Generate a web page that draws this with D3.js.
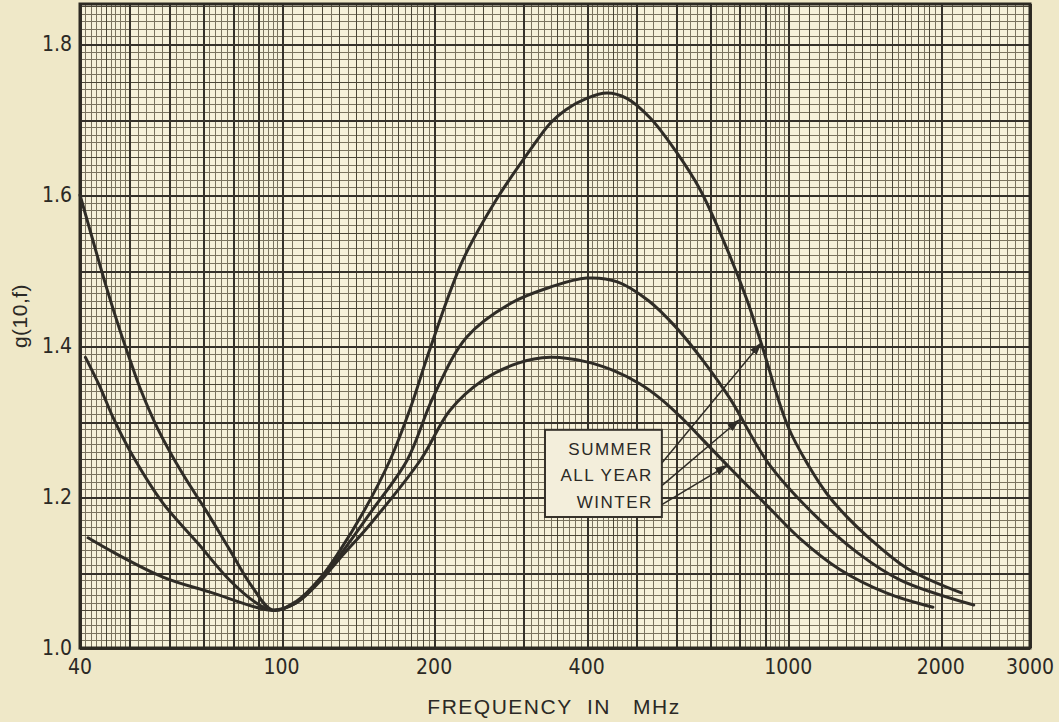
<!DOCTYPE html>
<meta charset="utf-8">
<style>
body { margin: 0; background: #efe8c8; }
svg { display: block; }
.tick-label { font-family: "Liberation Sans Narrow", "DejaVu Sans Condensed", sans-serif; font-size: 21px; fill: #2b2925; }
.axis-title { font-family: "Liberation Sans", Arial, sans-serif; font-size: 21px; fill: #2b2925; letter-spacing: 1.5px; }
.curve { fill: none; stroke: #2f2c26; stroke-width: 3; stroke-linejoin: round; stroke-linecap: round; }
.legend-text { font-family: "Liberation Sans", Arial, sans-serif; font-size: 17px; fill: #2b2925; letter-spacing: 1.5px; }
</style>
<body>
<script src="https://d3js.org/d3.v7.min.js"></script>
<script>
// values
var summerF = [40, 42, 45, 48, 50.3, 52.5, 56.9, 63.6, 71.4, 79, 87.5, 96, 107, 119, 130, 145, 163.7, 180, 196, 228, 266, 306, 339, 364, 400, 439, 480, 534, 597, 670, 750, 829, 884, 999, 1100, 1196, 1300, 1437, 1721, 2197];
var summerG = [1.60, 1.55, 1.48, 1.42, 1.38, 1.345, 1.291, 1.232, 1.179, 1.130, 1.081, 1.050, 1.062, 1.092, 1.128, 1.18, 1.249, 1.32, 1.395, 1.514, 1.595, 1.655, 1.695, 1.713, 1.728, 1.735, 1.728, 1.702, 1.660, 1.607, 1.535, 1.461, 1.404, 1.293, 1.240, 1.203, 1.175, 1.147, 1.105, 1.073];

var allYearF = [41, 43.8, 46.5, 50.3, 58.3, 68.3, 78.9, 89, 96, 107, 119, 130, 150, 177, 199, 232, 284, 339, 400, 460, 530, 600, 680, 768, 913, 1116, 1371, 1664, 2323];
var allYearG = [1.385, 1.346, 1.305, 1.26, 1.192, 1.139, 1.09, 1.06, 1.05, 1.06, 1.09, 1.122, 1.18, 1.249, 1.332, 1.412, 1.457, 1.478, 1.49, 1.485, 1.46, 1.425, 1.38, 1.33, 1.245, 1.179, 1.126, 1.090, 1.057];

var winterF = [41.5, 46.5, 58.3, 73, 89, 96, 107, 119, 130, 150, 188, 215, 250, 292, 339, 400, 450, 509, 560, 620, 669, 768, 913, 1055, 1264, 1561, 1930];
var winterG = [1.146, 1.127, 1.094, 1.073, 1.054, 1.05, 1.06, 1.088, 1.118, 1.165, 1.249, 1.315, 1.355, 1.377, 1.385, 1.379, 1.368, 1.350, 1.330, 1.303, 1.280, 1.238, 1.187, 1.145, 1.104, 1.073, 1.054];

var xTicks = [40, 100, 200, 400, 1000, 2000, 3000];
var yTicks = [1.0, 1.2, 1.4, 1.6, 1.8];

// legend labels and where their arrows point (freq, g)
var legendNames = ["SUMMER", "ALL YEAR", "WINTER"];
var arrowFrom = [[563, 1.245], [563, 1.215], [563, 1.19]];
var arrowTo = [[884, 1.404], [800, 1.302], [758, 1.242]];

var margin = {top: 4, right: 29, bottom: 74, left: 80},
    width = 1059 - margin.left - margin.right,
    height = 722 - margin.top - margin.bottom;

var x = d3.scaleLog().domain([40, 3000]).range([0, width]);
var y = d3.scaleLinear().domain([1.0, 1.853]).range([height, 0]);

var svg = d3.select("body").append("svg")
    .attr("width", 1059)
    .attr("height", 722);

var g = svg.append("g")
    .attr("transform", "translate(" + margin.left + "," + margin.top + ")");

g.append("rect")
    .attr("width", width).attr("height", height)
    .attr("fill", "#f6f1da");

// log paper: 1-2 by .05, 2-5 by .1, 5-10 by .2 inside each decade
var xMinor = [], xMid = [], xMajor = [];
[10, 100, 1000].forEach(function(dec) {
  var steps = [[1, 2, 0.05], [2, 5, 0.1], [5, 10, 0.2]];
  steps.forEach(function(s) {
    for (var m = s[0]; m < s[1] - 1e-9; m += s[2]) {
      var mm = Math.round(m * 100) / 100;
      var v = mm * dec;
      if (v < 40 || v > 3000) continue;
      if (Math.abs(mm - Math.round(mm)) < 1e-6) xMajor.push(v);
      else if ((mm < 2 && Math.abs(mm * 10 - Math.round(mm * 10)) < 1e-6) ||
               (mm >= 2 && mm < 5 && Math.abs(mm * 2 - Math.round(mm * 2)) < 1e-6)) xMid.push(v);
      else xMinor.push(v);
    }
  });
});
xMajor.push(3000);

var yMinor = [], yMid = [], yMajor = [];
for (var i = 0; i <= 85; i++) {
  var v = 1 + i * 0.01;
  if (i % 10 === 0) yMajor.push(v);
  else if (i % 5 === 0) yMid.push(v);
  else yMinor.push(v);
}

function vLines(vals, color, w) {
  g.append("g").selectAll("line").data(vals).enter().append("line")
    .attr("x1", function(d) { return Math.round(x(d)) + 0.5; })
    .attr("x2", function(d) { return Math.round(x(d)) + 0.5; })
    .attr("y1", 0).attr("y2", height)
    .attr("stroke", color).attr("stroke-width", w)
    .attr("shape-rendering", "crispEdges");
}
function hLines(vals, color, w) {
  g.append("g").selectAll("line").data(vals).enter().append("line")
    .attr("y1", function(d) { return Math.round(y(d)) + 0.5; })
    .attr("y2", function(d) { return Math.round(y(d)) + 0.5; })
    .attr("x1", 0).attr("x2", width)
    .attr("stroke", color).attr("stroke-width", w)
    .attr("shape-rendering", "crispEdges");
}
hLines(yMinor, "#7a735f", 1);
vLines(xMinor, "#7a735f", 1);
hLines(yMid, "#4a4536", 1.5);
vLines(xMid, "#4a4536", 1.5);
hLines(yMajor, "#35312a", 2);
vLines(xMajor, "#35312a", 2);

g.append("rect")
    .attr("width", width).attr("height", height)
    .attr("fill", "none").attr("stroke", "#2c2922").attr("stroke-width", 3);

// curves
var line = d3.line()
    .x(function(d) { return x(d[0]); })
    .y(function(d) { return y(d[1]); })
    .curve(d3.curveCatmullRom.alpha(0.5));

[[summerF, summerG], [allYearF, allYearG], [winterF, winterG]].forEach(function(s) {
  g.append("path")
    .datum(d3.zip(s[0], s[1]))
    .attr("class", "curve")
    .attr("d", line);
});

// legend box with arrows
svg.append("defs").append("marker")
    .attr("id", "head").attr("viewBox", "0 0 10 10")
    .attr("refX", 9).attr("refY", 5)
    .attr("markerWidth", 9).attr("markerHeight", 9)
    .attr("orient", "auto")
  .append("path").attr("d", "M0,2 L10,5 L0,8 Z").attr("fill", "#2f2c26");

g.selectAll(".arrow").data(legendNames).enter().append("line")
    .attr("class", "arrow")
    .attr("x1", function(d, i) { return x(arrowFrom[i][0]); })
    .attr("y1", function(d, i) { return y(arrowFrom[i][1]); })
    .attr("x2", function(d, i) { return x(arrowTo[i][0]); })
    .attr("y2", function(d, i) { return y(arrowTo[i][1]); })
    .attr("stroke", "#2f2c26").attr("stroke-width", 1.5)
    .attr("marker-end", "url(#head)");

var boxL = x(331), boxR = x(563), boxT = y(1.289), boxB = y(1.1735);
g.append("rect")
    .attr("x", boxL).attr("y", boxT)
    .attr("width", boxR - boxL).attr("height", boxB - boxT)
    .attr("fill", "#f3eedb").attr("stroke", "#35312a").attr("stroke-width", 2);

g.selectAll(".legend-text").data(legendNames).enter().append("text")
    .attr("class", "legend-text")
    .attr("x", boxR - 9)
    .attr("y", function(d, i) { return boxT + 25 + i * 26.5; })
    .attr("text-anchor", "end")
    .text(function(d) { return d; });

// tick labels
g.selectAll(".xl").data(xTicks).enter().append("text")
    .attr("class", "tick-label")
    .attr("x", function(d) { return x(d); })
    .attr("y", height + 26)
    .attr("text-anchor", "middle")
    .text(function(d) { return d; });

g.selectAll(".yl").data(yTicks).enter().append("text")
    .attr("class", "tick-label")
    .attr("x", -8)
    .attr("y", function(d) { return y(d) + 7; })
    .attr("text-anchor", "end")
    .text(function(d) { return d.toFixed(1); });

svg.append("text")
    .attr("class", "axis-title")
    .attr("x", 554).attr("y", 714)
    .attr("text-anchor", "middle")
    .attr("xml:space", "preserve")
    .style("white-space", "pre")
    .text("FREQUENCY  IN   MHz");

svg.append("text")
    .attr("class", "axis-title")
    .attr("transform", "translate(27,316) rotate(-90)")
    .attr("text-anchor", "middle")
    .style("letter-spacing", "0.5px")
    .text("g(10,f)");
</script>
